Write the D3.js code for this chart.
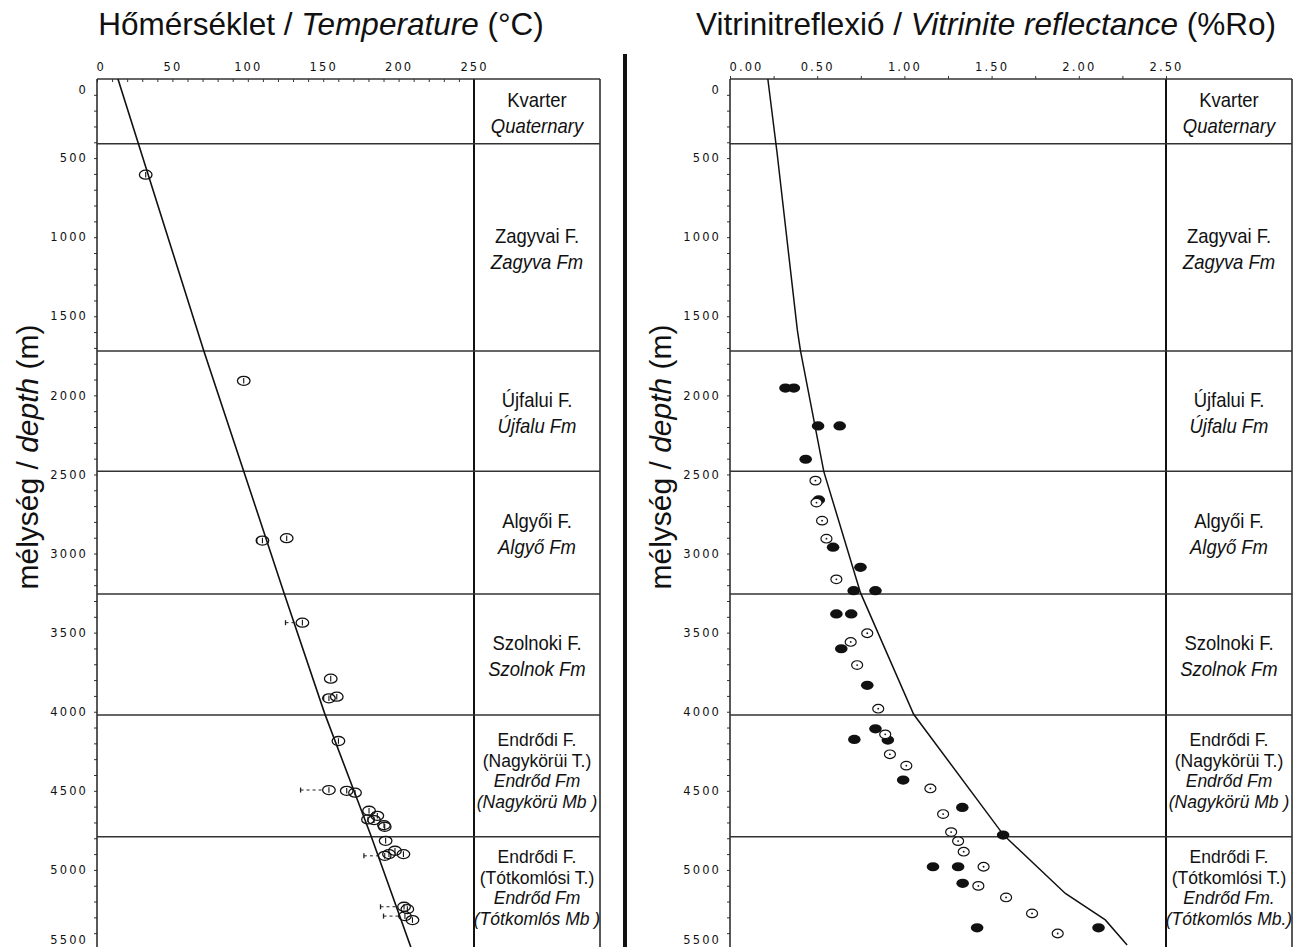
<!DOCTYPE html>
<html>
<head>
<meta charset="utf-8">
<script src="https://cdn.jsdelivr.net/npm/d3@7"></script>
<style>
  body { margin: 0; background: #fff; }
  svg { display: block; }
  .tick text { font-family: "DejaVu Sans", sans-serif; font-size: 11.5px; letter-spacing: 2.1px; fill: #111; }
  .title, .ytitle, .form { font-family: "Liberation Sans", Arial, sans-serif; fill: #111; }
</style>
</head>
<body>
<script>
// depth scale and formation boundaries (m)
const depthMajor = [0, 500, 1000, 1500, 2000, 2500, 3000, 3500, 4000, 4500, 5000, 5500];
const formTop = [0, 410, 1720, 2480, 3255, 4020, 4790];
const formBase = [410, 1720, 2480, 3255, 4020, 4790, 5500];
const formHu = [["Kvarter"], ["Zagyvai F."], ["Újfalui F."], ["Algyői F."], ["Szolnoki F."],
  ["Endrődi F.", "(Nagykörüi T.)"], ["Endrődi F.", "(Tótkomlósi T.)"]];
const formEnLeft = [["Quaternary"], ["Zagyva Fm"], ["Újfalu Fm"], ["Algyő Fm"], ["Szolnok Fm"],
  ["Endrőd Fm", "(Nagykörü Mb )"], ["Endrőd Fm", "(Tótkomlós Mb )"]];
const formEnRight = [["Quaternary"], ["Zagyva Fm"], ["Újfalu Fm"], ["Algyő Fm"], ["Szolnok Fm"],
  ["Endrőd Fm", "(Nagykörü Mb )"], ["Endrőd Fm.", "(Tótkomlós Mb.)"]];

// temperature
const tempTicks = [0, 50, 100, 150, 200, 250];
const tempDepth = [605, 1908, 2918, 2903, 3437, 3791, 3905, 3915, 4185, 4495, 4500, 4512, 4626, 4658,
  4681, 4685, 4717, 4727, 4816, 4911, 4900, 4879, 4900, 5233, 5248, 5292, 5317];
const tempValue = [32.3, 97.3, 109.7, 125.8, 136.2, 155.0, 159.0, 153.8, 160.1, 153.8, 165.6, 171.1, 180.4, 185.9,
  179.7, 183.7, 190.3, 190.8, 191.4, 190.8, 193.6, 197.6, 203.2, 203.6, 205.8, 204.2, 209.2];
const tempErrMin = [null, null, 106, null, 125, null, null, 150.3, null, 135, null, null, null, null,
  null, null, null, null, null, 177, null, null, null, 188, null, 190, null];
const tempLineDepth = [0, 1718, 2479, 3246, 4012, 4779, 5488];
const tempLineValue = [13.9, 70.8, 97.3, 123.9, 151.0, 181.5, 208.1];

// vitrinite reflectance
const roTicks = [0, 0.5, 1.0, 1.5, 2.0, 2.5];
const roFilledDepth = [1954, 1954, 2193, 2193, 2404, 2661, 2960, 3087, 3235, 3235, 3382, 3382, 3602, 3833,
  4108, 4179, 4175, 4432, 4605, 4780, 4980, 4980, 5085, 5366, 5366];
const roFilledValue = [0.318, 0.366, 0.505, 0.629, 0.434, 0.509, 0.591, 0.748, 0.709, 0.834, 0.610, 0.695, 0.638, 0.787,
  0.834, 0.905, 0.713, 0.993, 1.332, 1.566, 1.164, 1.308, 1.334, 1.417, 2.113];
const roOpenDepth = [2539, 2678, 2792, 2906, 3163, 3504, 3559, 3705, 3981, 4143, 4269, 4341, 4485, 4647,
  4761, 4818, 4885, 4980, 5101, 5174, 5275, 5402];
const roOpenValue = [0.490, 0.496, 0.528, 0.553, 0.610, 0.787, 0.692, 0.729, 0.850, 0.890, 0.917, 1.011, 1.149, 1.222,
  1.268, 1.308, 1.340, 1.454, 1.424, 1.583, 1.732, 1.879];
const roLineDepth = [0, 468, 1586, 1717, 2482, 3247, 4016, 4780, 5149, 5316, 5474];
const roLineValue = [0.217, 0.270, 0.386, 0.404, 0.538, 0.748, 1.053, 1.569, 1.923, 2.152, 2.277];

const w = 1300, h = 947;
const svg = d3.select("body").append("svg").attr("width", w).attr("height", h);

const y = d3.scaleLinear().domain([0, 5500]).range([79, 949]);
const xT = d3.scaleLinear().domain([0, 250]).range([97, 474]);
const xR = d3.scaleLinear().domain([0, 2.5]).range([730, 1166]);

// titles
function title(cx, hu, en, unit) {
  const t = svg.append("text").attr("class", "title").attr("x", cx).attr("y", 35)
    .attr("text-anchor", "middle").style("font-size", "31.5px");
  t.append("tspan").text(hu + " / ");
  t.append("tspan").style("font-style", "italic").text(en);
  t.append("tspan").text(" " + unit);
}
title(321, "Hőmérséklet", "Temperature", "(°C)");
title(986, "Vitrinitreflexió", "Vitrinite reflectance", "(%Ro)");

function yTitle(bx) {
  const t = svg.append("text").attr("class", "ytitle")
    .attr("transform", "translate(" + bx + ",457) rotate(-90)")
    .attr("text-anchor", "middle").style("font-size", "30px");
  t.append("tspan").text("mélység / ");
  t.append("tspan").style("font-style", "italic").text("depth");
  t.append("tspan").text(" (m)");
}
yTitle(38);
yTitle(671);

// separator between panels
svg.append("line").attr("x1", 625).attr("x2", 625).attr("y1", 54).attr("y2", h)
  .attr("stroke", "#111").attr("stroke-width", 4);

function panel(x, ticks, fmt, minorStep, colRight, formEn, tickDir) {
  const x0 = x.range()[0], x1 = x.range()[1];
  const g = svg.append("g");

  // x axis labels
  const xa = g.append("g").attr("transform", "translate(0,79)")
    .call(d3.axisTop(x).tickValues(ticks).tickFormat(fmt).tickSize(0).tickPadding(8));
  xa.select(".domain").remove();
  xa.selectAll(".tick text").filter((d, i) => i === 0).attr("text-anchor", "start").attr("x", -1);

  const minor = d3.range(0, x.domain()[1] + 1e-9, minorStep);
  const xm = g.append("g").attr("transform", "translate(0,79)")
    .call(d3.axisTop(x).tickValues(minor).tickFormat("").tickSize(tickDir * 3));
  xm.select(".domain").remove();
  xm.selectAll("line").attr("stroke", "#333");

  // y axis
  const ya = g.append("g").attr("transform", "translate(" + x0 + ",0)")
    .call(d3.axisLeft(y).tickValues(depthMajor).tickFormat(d3.format("d")).tickSize(0).tickPadding(9));
  ya.select(".domain").remove();
  ya.selectAll(".tick text").filter(d => d === 0).attr("dy", "1.3em");
  ya.selectAll(".tick text").filter(d => d === 5500).attr("dy", "-0.45em");
  const ym = g.append("g").attr("transform", "translate(" + x0 + ",0)")
    .call(d3.axisLeft(y).tickValues(d3.range(100, 5501, 100)).tickFormat("").tickSize(3));
  ym.select(".domain").remove();
  ym.selectAll("line").attr("stroke", "#333");

  // frame
  g.append("line").attr("x1", x0).attr("x2", x0).attr("y1", 79).attr("y2", h)
    .attr("stroke", "#222").attr("stroke-width", 1.5);
  g.append("line").attr("x1", x1).attr("x2", x1).attr("y1", 79).attr("y2", h)
    .attr("stroke", "#111").attr("stroke-width", 2);
  g.append("line").attr("x1", colRight).attr("x2", colRight).attr("y1", 79).attr("y2", h)
    .attr("stroke", "#222").attr("stroke-width", 1.5);
  g.selectAll(".fline").data([0].concat(formBase.slice(0, -1))).enter().append("line")
    .attr("x1", x0).attr("x2", colRight)
    .attr("y1", d => y(d)).attr("y2", d => y(d))
    .attr("stroke", "#333").attr("stroke-width", 1.5);

  // formation labels
  const cx = (x1 + colRight) / 2;
  formTop.forEach((top, i) => {
    const lines = formHu[i].map(s => ({ s: s, it: false }))
      .concat(formEn[i].map(s => ({ s: s, it: true })));
    const four = lines.length > 2;
    const step = four ? 20.5 : 26;
    const mid = y((top + formBase[i]) / 2) + (four ? -5 : 1);
    lines.forEach((l, j) => {
      g.append("text").attr("class", "form")
        .attr("transform", "translate(" + cx + "," + (mid + (j - (lines.length - 1) / 2) * step) + ")" +
          (four ? "" : " scale(0.9,1)"))
        .attr("dy", "0.36em").attr("text-anchor", "middle")
        .style("font-size", four ? "17.5px" : "20.5px").style("font-style", l.it ? "italic" : "normal")
        .text(l.s);
    });
  });
  return g;
}

const gT = panel(xT, tempTicks, d3.format("d"), 10, 600, formEnLeft, -1);
const gR = panel(xR, roTicks, d3.format(".2f"), 0.25, 1292, formEnRight, 1);

// temperature curve
const tempLine = d3.line().x(d => xT(d[1])).y(d => y(d[0]));
gT.append("path").datum(tempLineDepth.map((d, i) => [d, tempLineValue[i]]))
  .attr("d", tempLine).attr("fill", "none").attr("stroke", "#111").attr("stroke-width", 1.6);

// error bars
const temps = tempDepth.map((d, i) => ({ d: d, t: tempValue[i], e: tempErrMin[i] }));
const errs = temps.filter(p => p.e !== null);
gT.selectAll(".err").data(errs).enter().append("line")
  .attr("x1", p => xT(p.e)).attr("x2", p => xT(p.t) - 6)
  .attr("y1", p => y(p.d)).attr("y2", p => y(p.d))
  .attr("stroke", "#222").attr("stroke-dasharray", "3,3");
gT.selectAll(".errcap").data(errs).enter().append("line")
  .attr("x1", p => xT(p.e)).attr("x2", p => xT(p.e))
  .attr("y1", p => y(p.d) - 2.5).attr("y2", p => y(p.d) + 2.5)
  .attr("stroke", "#222").attr("stroke-width", 1.3);

// temperature measurements
const tp = gT.selectAll(".tp").data(temps).enter().append("g")
  .attr("transform", p => "translate(" + xT(p.t) + "," + y(p.d) + ")");
tp.append("ellipse").attr("rx", 6.3).attr("ry", 4.5)
  .attr("fill", "none").attr("stroke", "#111").attr("stroke-width", 1.3);
tp.append("line").attr("y1", -2.8).attr("y2", 2.8).attr("stroke", "#111").attr("stroke-width", 1.1);

// Ro curve
const roLine = d3.line().x(d => xR(d[1])).y(d => y(d[0]));
gR.append("path").datum(roLineDepth.map((d, i) => [d, roLineValue[i]]))
  .attr("d", roLine).attr("fill", "none").attr("stroke", "#111").attr("stroke-width", 1.5);

// Ro measurements
gR.selectAll(".rof").data(roFilledDepth.map((d, i) => [d, roFilledValue[i]])).enter().append("ellipse")
  .attr("cx", d => xR(d[1])).attr("cy", d => y(d[0]))
  .attr("rx", 6.3).attr("ry", 4.6).attr("fill", "#111");
const ro = gR.selectAll(".roo").data(roOpenDepth.map((d, i) => [d, roOpenValue[i]])).enter().append("g")
  .attr("transform", d => "translate(" + xR(d[1]) + "," + y(d[0]) + ")");
ro.append("ellipse").attr("rx", 5.5).attr("ry", 4.3)
  .attr("fill", "#fff").attr("stroke", "#111").attr("stroke-width", 1.2);
ro.append("circle").attr("r", 0.9).attr("fill", "#111");
</script>
</body>
</html>
